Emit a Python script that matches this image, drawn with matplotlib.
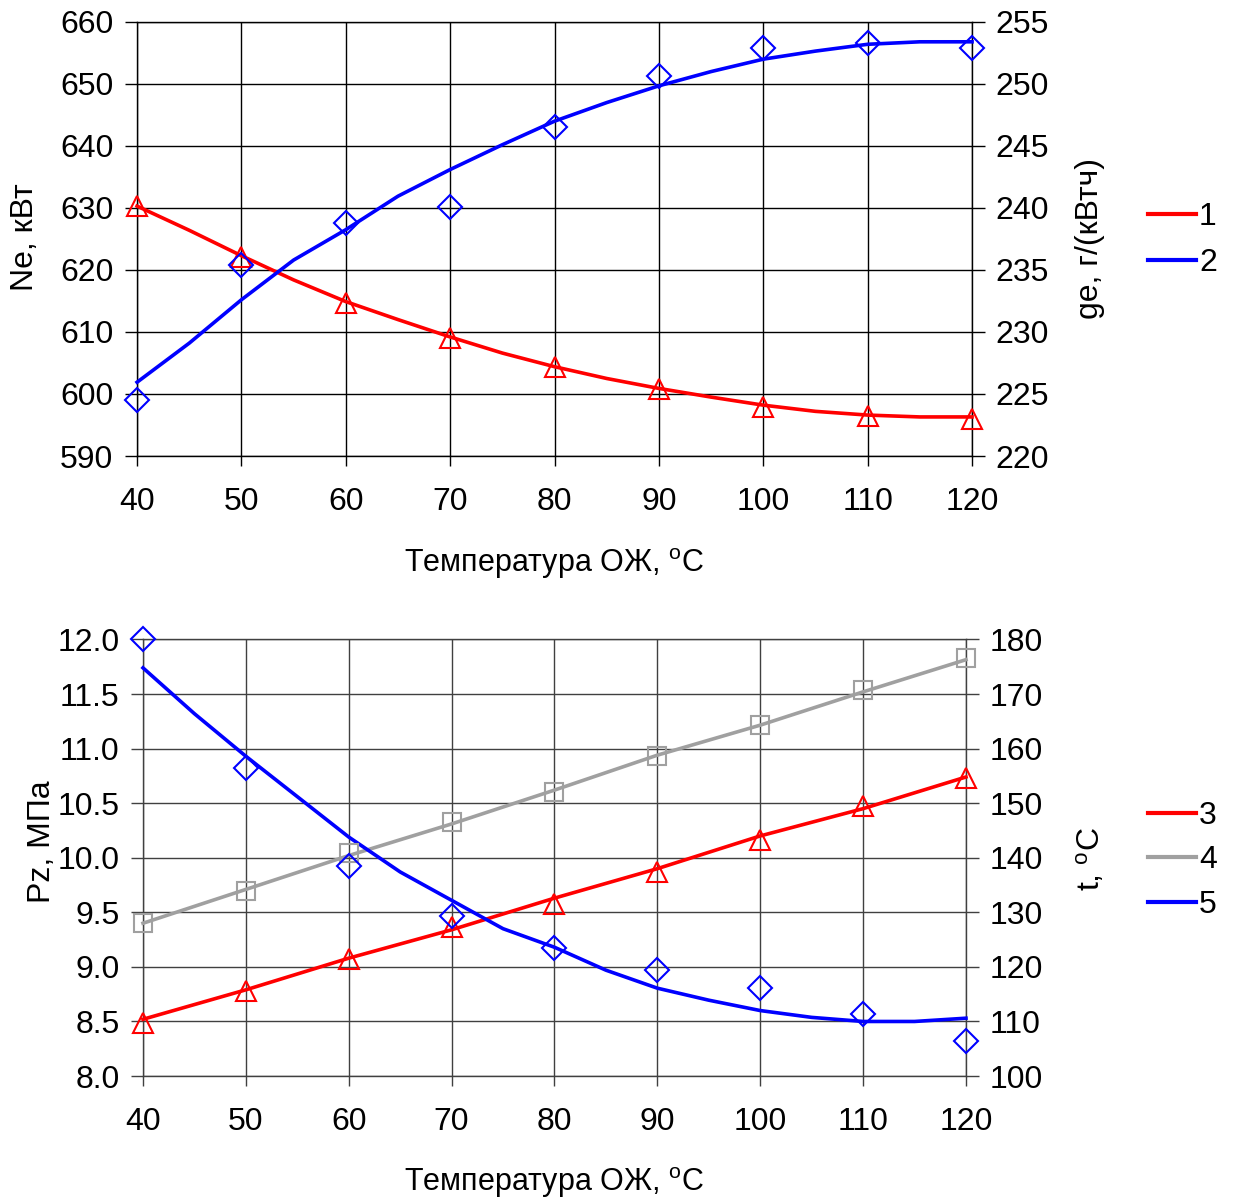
import numpy as np
import matplotlib
matplotlib.use("Agg")
import matplotlib.pyplot as plt
from matplotlib.lines import Line2D

plt.rcParams['font.family'] = ['Liberation Sans', 'DejaVu Sans']
plt.rcParams['mathtext.default'] = 'regular'
plt.rcParams['font.size'] = 23

# --- data ---
t_pts = [40, 50, 60, 70, 80, 90, 100, 110, 120]          # measured points
t_fit = [40, 45, 50, 55, 60, 65, 70, 75, 80, 85, 90,
         95, 100, 105, 110, 115, 120]                      # trend line points

# top: 1 - Ne (left axis), 2 - ge (right axis)
ne_pts = [630.3, 622.1, 614.6, 609.0, 604.4, 600.8, 597.9, 596.4, 595.9]
ne_fit = [630.3, 626.4, 622.3, 618.4, 614.9, 612.0, 609.2, 606.6, 604.4,
          602.5, 600.9, 599.5, 598.2, 597.2, 596.6, 596.3, 596.3]
ge_pts = [224.55, 235.4, 238.75, 240.1, 246.55, 250.65, 252.9, 253.3, 252.9]
ge_fit = [225.95, 229.1, 232.6, 235.8, 238.25, 240.95, 243.1, 245.1, 247.0,
          248.5, 249.85, 251.0, 252.0, 252.65, 253.2, 253.4, 253.4]

# bottom: 3 - Pz (left axis), 4 and 5 - t (right axis)
pz_pts = [8.49, 8.78, 9.07, 9.37, 9.58, 9.87, 10.16, 10.47, 10.73]
pz_fit = [8.52, 8.79, 9.08, 9.34, 9.63, 9.90, 10.20, 10.45, 10.74]
t4_pts = [128.0, 134.0, 140.8, 146.6, 152.0, 158.6, 164.4, 170.8, 176.6]
t4_fit = [128.0, 134.2, 140.4, 146.2, 152.4, 158.8, 164.3, 170.4, 176.3]
t5_pts = [180.0, 156.4, 138.4, 129.4, 123.4, 119.5, 116.1, 111.4, 106.5]
t5_fit = [174.8, 166.4, 158.6, 151.2, 143.8, 137.4, 132.2, 127.0, 123.6,
          119.4, 116.1, 113.9, 112.0, 110.75, 110.0, 110.0, 110.6]

xlabel = 'Температура ОЖ, $^{o}$C'
RED = '#ff0000'
BLUE = '#0000ff'
GREY = '#a0a0a0'

fig = plt.figure(figsize=(12.37, 12.0), dpi=100)


def style_axes(ax, ax2, gridcolor):
    ax.set_xlim(40, 120)
    ax.set_xticks(t_pts)
    ax.grid(True, color=gridcolor, linewidth=1.0)
    ax.set_axisbelow(True)
    for sp in ax.spines.values():
        sp.set_color(gridcolor)
        sp.set_linewidth(1.0)
    for sp in ax2.spines.values():
        sp.set_visible(False)
    ax.tick_params(axis='y', direction='out', length=9, width=1, pad=8,
                   color=gridcolor)
    ax.tick_params(axis='x', direction='out', length=7, width=1, pad=15,
                   color=gridcolor)
    ax2.tick_params(axis='y', direction='out', length=9, width=1, pad=8,
                    color=gridcolor)


mk = dict(markerfacecolor='none', markeredgewidth=1.5, linestyle='none',
          clip_on=False, zorder=4)
ln = dict(lw=2.6, clip_on=False, zorder=3)

# ---------------- top panel ----------------
ax = fig.add_axes([0.1108, 0.62, 0.675, 0.3617])
ax2 = ax.twinx()
ax.set_ylim(590, 660)
ax.set_yticks(np.arange(590, 661, 10))
ax2.set_ylim(220, 255)
ax2.set_yticks(np.arange(220, 256, 5))
style_axes(ax, ax2, 'black')

ax.plot(t_fit, ne_fit, color=RED, **ln)
ax.plot(t_pts, ne_pts, marker='^', markersize=15, markeredgecolor=RED, **mk)
ax2.plot(t_fit, ge_fit, color=BLUE, **ln)
ax2.plot(t_pts, ge_pts, marker='D', markersize=12.5, markeredgecolor=BLUE, **mk)

ax.set_ylabel('Ne, кВт')
ax.yaxis.set_label_coords(-0.116, 0.504)
ax2.set_ylabel('ge, г/(кВтч)')
ax2.yaxis.set_label_coords(1.123, 0.5)
ax.set_xlabel(xlabel, fontsize=22)
ax.xaxis.set_label_coords(0.5, -0.207)

fig.legend([Line2D([], [], color=RED, lw=3), Line2D([], [], color=BLUE, lw=3)],
           ['1', '2'], loc='center left', bbox_to_anchor=(0.928, 0.80),
           frameon=False, handlelength=1.5, handletextpad=0.1,
           labelspacing=0.5, borderaxespad=0, borderpad=0)

# ---------------- bottom panel ----------------
bx = fig.add_axes([0.1156, 0.1033, 0.6653, 0.3638])
bx2 = bx.twinx()
bx.set_ylim(8.0, 12.0)
bx.set_yticks(np.arange(8.0, 12.01, 0.5))
bx.set_yticklabels(['%.1f' % v for v in np.arange(8.0, 12.01, 0.5)])
bx2.set_ylim(100, 180)
bx2.set_yticks(np.arange(100, 181, 10))
style_axes(bx, bx2, '#404040')

bx.plot(t_pts, pz_fit, color=RED, **ln)
bx.plot(t_pts, pz_pts, marker='^', markersize=15, markeredgecolor=RED, **mk)
bx2.plot(t_pts, t4_fit, color=GREY, **ln)
bx2.plot(t_pts, t4_pts, marker='s', markersize=13, markeredgecolor=GREY, **mk)
bx2.plot(t_fit, t5_fit, color=BLUE, **ln)
bx2.plot(t_pts, t5_pts, marker='D', markersize=12.5, markeredgecolor=BLUE, **mk)

bx.set_ylabel('Pz, МПа')
bx.yaxis.set_label_coords(-0.104, 0.536)
bx2.set_ylabel('t, $^{o}$C')
bx2.yaxis.set_label_coords(1.132, 0.497)
bx.set_xlabel(xlabel, fontsize=22)
bx.xaxis.set_label_coords(0.5, -0.204)

fig.legend([Line2D([], [], color=RED, lw=3), Line2D([], [], color=GREY, lw=3),
            Line2D([], [], color=BLUE, lw=3)],
           ['3', '4', '5'], loc='center left', bbox_to_anchor=(0.928, 0.283),
           frameon=False, handlelength=1.5, handletextpad=0.1,
           labelspacing=0.45, borderaxespad=0, borderpad=0)

fig.savefig('out.png', dpi=100)
